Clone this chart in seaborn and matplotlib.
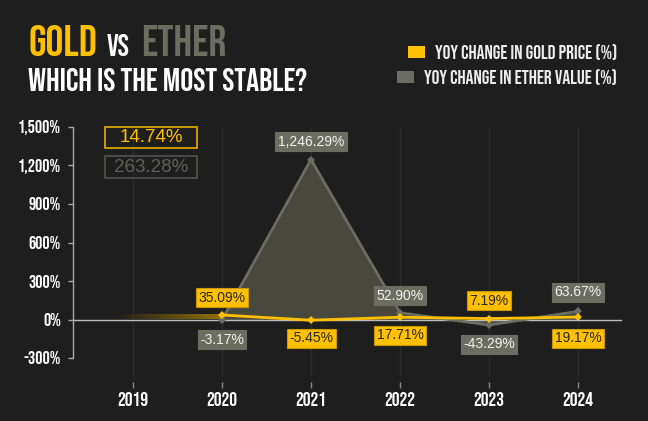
"""
Gold vs Ether: YoY change line chart with labelled points.
"""

import numpy as np
import matplotlib
matplotlib.use("Agg")
import matplotlib.pyplot as plt
import matplotlib.patches as mpatches
import seaborn as sns
import pandas as pd

# Data
years = [2019, 2020, 2021, 2022, 2023, 2024]
data_years = [2020, 2021, 2022, 2023, 2024]
gold_yoy = [35.09, -5.45, 17.71, 7.19, 19.17]
ether_yoy = [-3.17, 1246.29, 52.90, -43.29, 63.67]
y_ticks = [-300, 0, 300, 600, 900, 1200, 1500]

# label offsets in pixels (above / below the point)
gold_offsets = [17, -18, -18, 18, -21]
ether_offsets = [-20, 18, 17, -19, 19]

BG = "#1e1e1e"
GOLD = "#ffc000"
ETHER = "#6b6d60"
ETHER_FILL = "#48483f"
TITLE_FONT = ["Bebas Neue", "DejaVu Sans"]
LABEL_FONT = ["Liberation Sans", "DejaVu Sans"]

sns.set_style("ticks")
plt.rcParams["font.family"] = LABEL_FONT

W, H = 648, 421
fig = plt.figure(figsize=(W / 100, H / 100), dpi=100, facecolor=BG)


def fx(px):
    return px / W


def fy(py):
    return 1 - py / H


ax = fig.add_axes([fx(73), fy(358), fx(622) - fx(73), (358 - 127) / H])
ax.set_facecolor(BG)

df = pd.DataFrame({"year": data_years, "gold": gold_yoy, "ether": ether_yoy})

# faint vertical guides
ax.vlines(years, -0.078, 1, transform=ax.get_xaxis_transform(),
          color="#2c2c2c", lw=1, clip_on=False, zorder=0)

# gold fade-in band before 2020
grad = np.zeros((1, 256, 4))
grad[..., :3] = matplotlib.colors.to_rgb("#957400")
grad[..., 3] = np.linspace(0, 1, 256)
ax.imshow(grad, extent=[2018.82, data_years[0], 0, gold_yoy[0] * 0.9],
          aspect="auto", zorder=1, interpolation="bilinear")

# ether area + line
ax.fill_between(df["year"], df["ether"], 0, color=ETHER_FILL, lw=0, zorder=1)
ax.axhline(0, color="#bdbdbd", lw=1, zorder=2)
sns.lineplot(data=df, x="year", y="ether", ax=ax, color=ETHER, lw=2,
             marker="D", markersize=4.5, markeredgewidth=0, zorder=3)
sns.lineplot(data=df, x="year", y="gold", ax=ax, color=GOLD, lw=2,
             marker="D", markersize=4.5, markeredgewidth=0, zorder=4)

# point labels
for yr, v, off in zip(data_years, ether_yoy, ether_offsets):
    ax.annotate(f"{v:,.2f}%", (yr, v), xytext=(0, off), textcoords="offset pixels",
                ha="center", va="center", fontsize=10, color="#f2f2f2", zorder=6,
                bbox=dict(boxstyle="square,pad=0.18", fc=ETHER, ec=ETHER, lw=0.8))
for yr, v, off in zip(data_years, gold_yoy, gold_offsets):
    ax.annotate(f"{v:,.2f}%", (yr, v), xytext=(0, off), textcoords="offset pixels",
                ha="center", va="center", fontsize=10, color="#262626", zorder=7,
                bbox=dict(boxstyle="square,pad=0.18", fc=GOLD, ec="#c99700", lw=0.8))

# axes styling
ax.set_xlim(2018.326, 2024.494)
ax.set_ylim(-300, 1500)
ax.set_xticks(years)
ax.set_yticks(y_ticks)
ax.set_yticklabels([f"{t:,}%" for t in y_ticks])
ax.set_xlabel("")
ax.set_ylabel("")
for s in ["top", "right", "bottom"]:
    ax.spines[s].set_visible(False)
ax.spines["bottom"].set_position(("outward", 21.6))
ax.spines["left"].set_color("#a8a8a8")
ax.spines["left"].set_linewidth(1)
ax.tick_params(axis="y", direction="out", length=3.6, width=1, color="#a8a8a8",
               pad=5, labelcolor="white", labelsize=13)
ax.tick_params(axis="x", direction="in", length=4.3, width=1, color="#8a8a8a",
               pad=3, labelcolor="white", labelsize=14)
for lab in ax.get_yticklabels() + ax.get_xticklabels():
    lab.set_family(TITLE_FONT)

# average boxes
gold_avg = np.mean(gold_yoy)
ether_avg = np.mean(ether_yoy)
for (top, bot), val, ec, tc in [((127, 148), gold_avg, "#d9a400", GOLD),
                               ((156, 178), ether_avg, "#4e4f47", "#5f6156")]:
    fig.add_artist(mpatches.Rectangle((fx(105), fy(bot)), fx(197) - fx(105),
                                      (bot - top) / H, transform=fig.transFigure,
                                      fill=False, ec=ec, lw=1.3))
    fig.text(fx(151), fy((top + bot) / 2), f"{val:.2f}%", ha="center", va="center",
             fontsize=13.5, color=tc)

# title
fig.text(fx(28), fy(56), "GOLD", family=TITLE_FONT, fontsize=32, color=GOLD, va="baseline")
fig.text(fx(107), fy(56), "vs", family=TITLE_FONT, fontsize=22, color="white", va="baseline")
fig.text(fx(141), fy(56), "ETHER", family=TITLE_FONT, fontsize=32, color=ETHER, va="baseline")
fig.text(fx(28), fy(91), "WHICH IS THE MOST STABLE?", family=TITLE_FONT, fontsize=23.3,
         color="white", va="baseline")

# legend, right aligned with swatches before the text
renderer = fig.canvas.get_renderer()
for cy, txt, col in [(52, "YOY CHANGE IN GOLD PRICE (%)", GOLD),
                     (77, "YOY CHANGE IN ETHER VALUE (%)", ETHER)]:
    t = fig.text(fx(617), fy(cy), txt, family=TITLE_FONT, fontsize=14,
                 color="#ececec", ha="right", va="center")
    bb = t.get_window_extent(renderer)
    left = bb.x0 - 10 - 17
    fig.add_artist(mpatches.Rectangle((left / W, fy(cy + 6)), 17 / W, 12 / H,
                                      transform=fig.transFigure, fc=col, ec="none"))

fig.savefig("out.png", dpi=100, facecolor=BG)
